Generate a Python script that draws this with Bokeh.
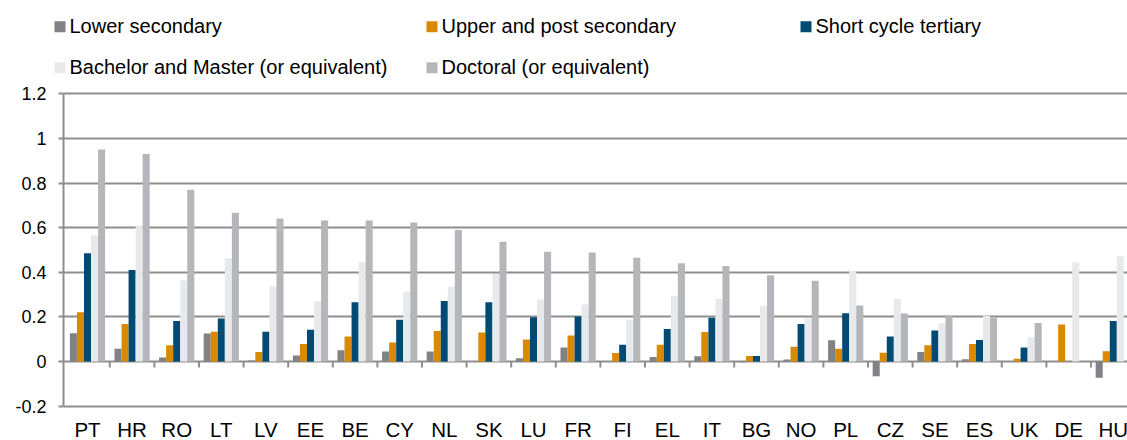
from bokeh.plotting import figure
from bokeh.layouts import column
from bokeh.models import Range1d, FixedTicker
from bokeh.core.properties import value
from bokeh.embed import file_html
from bokeh.resources import INLINE

# ---------------- data ----------------
countries = ["PT", "HR", "RO", "LT", "LV", "EE", "BE", "CY", "NL", "SK", "LU", "FR",
             "FI", "EL", "IT", "BG", "NO", "PL", "CZ", "SE", "ES", "UK", "DE", "HU"]

series_names = ["Lower secondary", "Upper and post secondary", "Short cycle tertiary",
                "Bachelor and Master (or equivalent)", "Doctoral (or equivalent)"]

lower_secondary = [0.127, 0.057, 0.018, 0.126, 0.005, 0.027, 0.051, 0.045, 0.045, 0.0, 0.015, 0.063,
                   0.0, 0.020, 0.024, -0.003, 0.009, 0.096, -0.066, 0.043, 0.010, 0.0, 0.0, -0.072]
upper_post_secondary = [0.221, 0.169, 0.073, 0.134, 0.043, 0.079, 0.112, 0.085, 0.137, 0.130, 0.099, 0.117,
                        0.039, 0.076, 0.133, 0.025, 0.067, 0.057, 0.040, 0.073, 0.079, 0.013, 0.166, 0.046]
short_cycle_tertiary = [0.486, 0.411, 0.182, 0.193, 0.134, 0.143, 0.266, 0.188, 0.272, 0.266, 0.199, 0.202,
                        0.076, 0.146, 0.197, 0.025, 0.169, 0.217, 0.112, 0.139, 0.097, 0.063, 0.0, 0.182]
bachelor_master = [0.565, 0.610, 0.363, 0.463, 0.338, 0.270, 0.445, 0.314, 0.336, 0.393, 0.278, 0.256,
                   0.188, 0.294, 0.282, 0.251, 0.194, 0.407, 0.282, 0.172, 0.205, 0.109, 0.444, 0.471]
doctoral = [0.951, 0.931, 0.770, 0.667, 0.641, 0.632, 0.632, 0.623, 0.590, 0.537, 0.492, 0.489,
            0.466, 0.441, 0.429, 0.387, 0.362, 0.251, 0.215, 0.205, 0.197, 0.173, 0.0, 0.0]

y_ticks = [-0.2, 0, 0.2, 0.4, 0.6, 0.8, 1, 1.2]
y_tick_labels = ["-0.2", "0", "0.2", "0.4", "0.6", "0.8", "1", "1.2"]

# ---------------- style ----------------
FONT = "Liberation Sans"
COLORS = ["#818186", "#d98a00", "#004a73", "#e8e9eb", "#b5b6ba"]
GRID = "#8e8e8e"
TEXT = "#000000"
W = 1127
LEG_H = 80
MAIN_H = 337
LAB_H = 23
LEFT = 63
BAR_W = 0.158
PX_PER_CAT = 44.6
X_START = -1.7 / PX_PER_CAT
X_END = X_START + (W - LEFT) / PX_PER_CAT
PX_PER_UNIT = 223.0
Y_END = 1.2 + 3.4 / PX_PER_UNIT
Y_START = -0.2 - 3.3 / PX_PER_UNIT

all_series = [lower_secondary, upper_post_secondary, short_cycle_tertiary, bachelor_master, doctoral]

# ---------------- legend (pixel-space figure) ----------------
leg = figure(width=W, height=LEG_H, x_range=Range1d(0, W), y_range=Range1d(LEG_H, 0),
             x_axis_type=None, y_axis_type=None, output_backend="svg", toolbar_location=None,
             min_border=0)
leg.frame_align = False
leg.grid.visible = False
leg.outline_line_color = None

col_x = [54, 426, 800]
row_mid = [25.3, 66.3]
mk_x, mk_y, tx, ty = [], [], [], []
for i, name in enumerate(series_names):
    c, r = i % 3, i // 3
    mk_x.append(col_x[c] + 5.5)
    mk_y.append(row_mid[r] + 0.9)
    tx.append(col_x[c] + 15)
    ty.append(row_mid[r])
leg.rect(x=mk_x, y=mk_y, width=11, height=11, fill_color=COLORS, line_color=None)
leg.text(x=tx, y=ty, text=series_names, text_font=value(FONT), text_font_size="20px",
         text_baseline="middle", text_align="left", text_color=TEXT)

# ---------------- main chart ----------------
p = figure(width=W, height=MAIN_H, x_range=Range1d(X_START, X_END), y_range=Range1d(Y_START, Y_END),
           x_axis_type=None, output_backend="svg", toolbar_location=None,
           min_border_left=LEFT, min_border_right=0, min_border_top=10, min_border_bottom=8)
p.outline_line_color = None
p.background_fill_color = "white"
p.border_fill_color = "white"

n = len(countries)
centers = [i + 0.5 for i in range(n)]
for k, vals in enumerate(all_series):
    xs = [c + (k - 2) * BAR_W for c in centers]
    p.vbar(x=xs, top=vals, bottom=0, width=BAR_W, fill_color=COLORS[k], line_color=None)

# category separator ticks on the zero line
bounds = list(range(1, n))
p.segment(x0=bounds, y0=[0] * len(bounds), x1=bounds, y1=[-0.027] * len(bounds),
          line_color=GRID, line_width=2)

# grid
p.xgrid.grid_line_color = None
p.ygrid.ticker = FixedTicker(ticks=y_ticks)
p.ygrid.grid_line_color = GRID
p.ygrid.grid_line_width = 2

# y axis
ya = p.yaxis[0]
ya.ticker = FixedTicker(ticks=y_ticks)
ya.major_label_overrides = dict(zip(y_ticks, y_tick_labels))
ya.bounds = (-0.2, 1.2)
ya.axis_line_color = GRID
ya.axis_line_width = 2
ya.major_tick_line_color = GRID
ya.major_tick_line_width = 2
ya.major_tick_out = 5
ya.major_tick_in = 0
ya.minor_tick_line_color = None
ya.major_label_text_font = FONT
ya.major_label_text_font_size = "18px"
ya.major_label_text_color = TEXT
ya.major_label_standoff = 12

# ---------------- category labels (shares the x scale) ----------------
lab = figure(width=W, height=LAB_H, x_range=p.x_range, y_range=Range1d(LAB_H, 0),
             x_axis_type=None, y_axis_type=None, output_backend="svg", toolbar_location=None,
             min_border_left=LEFT, min_border_right=0, min_border_top=0, min_border_bottom=0)
lab.grid.visible = False
lab.outline_line_color = None
lab.text(x=centers, y=[11.5] * n, text=countries, text_font=value(FONT), text_font_size="20.5px",
         text_baseline="middle", text_align="center", text_color=TEXT)

layout = column(leg, p, lab, spacing=0)
open("out.html", "w").write(file_html(layout, INLINE))
